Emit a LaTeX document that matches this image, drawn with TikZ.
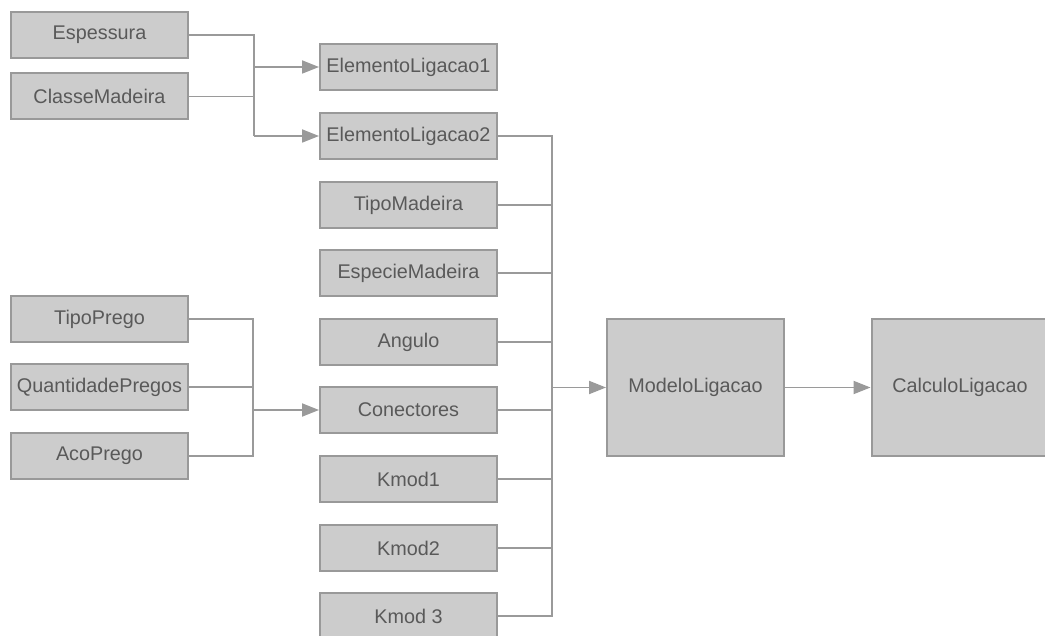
\documentclass[tikz,border=0pt]{standalone}
\usepackage{fontspec}
\setmainfont{Liberation Sans}
\usetikzlibrary{arrows.meta}
\definecolor{boxfill}{HTML}{CCCCCC}
\definecolor{boxline}{HTML}{999999}
\definecolor{wire}{HTML}{9A9A9A}
\definecolor{label}{HTML}{595959}
\tikzset{
  block/.style={draw=boxline, fill=boxfill, line width=2pt, minimum width=177pt,
    minimum height=46pt, inner sep=0pt, text=label,
    font=\fontsize{19.8}{22}\selectfont},
  bigblock/.style={block, minimum height=137pt},
  wireline/.style={draw=wire, line width=1.8pt},
  wirearrow/.style={wireline, -{Triangle[length=17pt,width=13pt,fill=wire]}}
}
\begin{document}
\begin{tikzpicture}[x=1pt,y=-1pt]
\useasboundingbox (0,0) rectangle (1045,636);

% inputs of the two joint elements
\node[block] (esp) at (99.5,35)  {Espessura};
\node[block] (cm)  at (99.5,96.5) {ClasseMadeira};

% nail inputs
\node[block] (tp) at (99.5,319) {TipoPrego};
\node[block] (qp) at (99.5,387) {QuantidadePregos};
\node[block] (ap) at (99.5,456) {AcoPrego};

% model parameters
\node[block] (el1) at (408.5,67)  {ElementoLigacao1};
\node[block] (el2) at (408.5,136) {ElementoLigacao2};
\node[block] (tm)  at (408.5,205) {TipoMadeira};
\node[block] (em)  at (408.5,273) {EspecieMadeira};
\node[block] (an)  at (408.5,342) {Angulo};
\node[block] (co)  at (408.5,410) {Conectores};
\node[block] (k1)  at (408.5,479) {Kmod1};
\node[block] (k2)  at (408.5,548) {Kmod2};
\node[block] (k3)  at (408.5,616) {Kmod 3};

% model and calculation
\node[bigblock] (ml) at (695.5,387.5) {ModeloLigacao};
\node[bigblock] (cl) at (960,387.5)   {CalculoLigacao};

% junction points
\coordinate (ja) at (254,136);
\coordinate (jb) at (253,456);
\coordinate (bus) at (552,387.5);

% Espessura + ClasseMadeira -> ElementoLigacao1/2
\draw[wireline] (esp.east) -| (ja);
\draw[wireline] (cm.east) -- (cm.east -| ja);
\draw[wirearrow] (el1.west -| ja) -- (el1.west);
\draw[wirearrow] (ja) -- (el2.west);

% nail inputs -> Conectores
\draw[wireline] (tp.east) -| (jb) -- (ap.east);
\draw[wireline] (qp.east) -- (qp.east -| jb);
\draw[wirearrow] (co.west -| jb) -- (co.west);

% parameter bus -> ModeloLigacao
\draw[wireline] (el2.east) -| (k3.east -| bus) -- (k3.east);
\foreach \n in {tm,em,an,co,k1,k2}
  \draw[wireline] (\n.east) -- (\n.east -| bus);
\draw[wirearrow] (bus) -- (ml.west);

% ModeloLigacao -> CalculoLigacao
\draw[wirearrow] (ml.east) -- (cl.west);
\end{tikzpicture}
\end{document}
